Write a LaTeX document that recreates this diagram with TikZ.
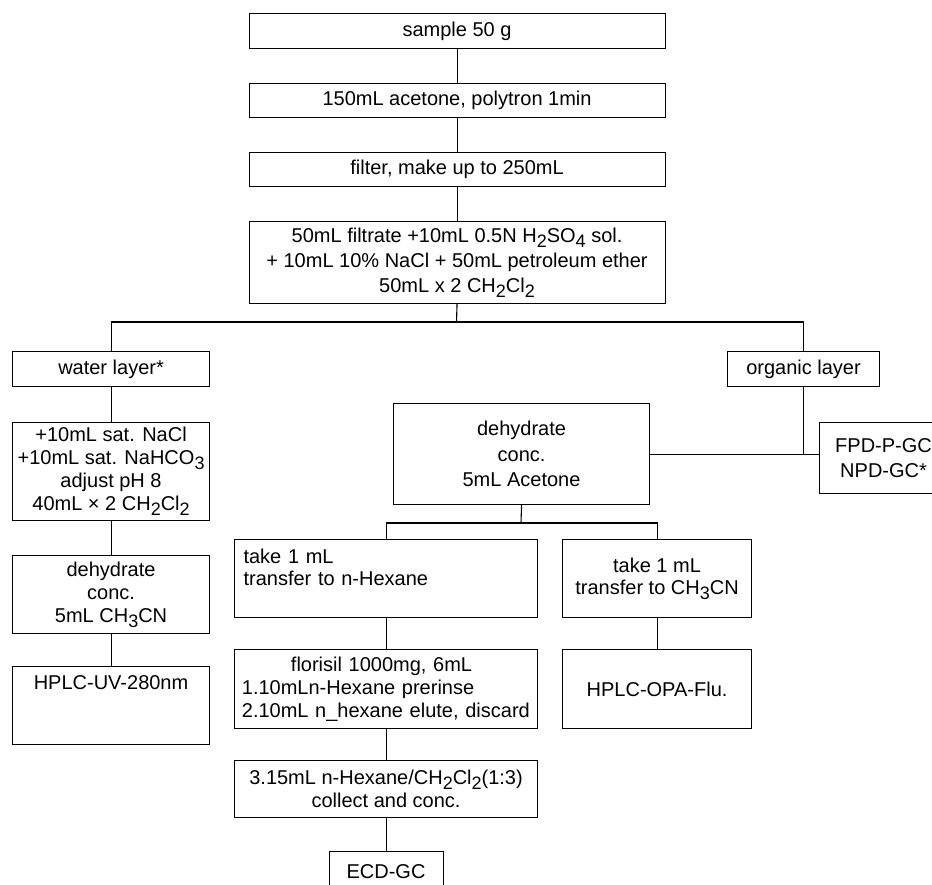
\documentclass[tikz,border=0pt]{standalone}
\usepackage{fontspec}
\setmainfont{Liberation Sans}
\newcommand{\chemsub}[1]{\raisebox{-5pt}{\fontsize{18}{18}\selectfont #1}}
\tikzset{
  box/.style={draw, line width=1.1pt, anchor=north west, inner sep=2pt, align=center, font=\fontsize{20}{23}\selectfont},
  link/.style={line width=1.1pt},
}

\begin{document}
\begin{tikzpicture}[x=1pt, y=-1pt]%
\useasboundingbox (0,0) rectangle (932,885);%
\clip (0,0) rectangle (932,885);%
% main column
\node[box, minimum width=416, minimum height=35] (sample) at (248.5,13) {sample 50 g};%
\node[box, minimum width=416, minimum height=34] (acetone) at (248.5,83) {150mL acetone, polytron 1min};%
\node[box, minimum width=416, minimum height=34] (filter) at (248.5,152) {filter, make up to 250mL};%
\node[box, minimum width=416, minimum height=82, font=\fontsize{20}{25}\selectfont] (filtrate) at (248.5,221) {50mL filtrate +10mL 0.5N H\chemsub{2}SO\chemsub{4} sol.\\ + 10mL 10\% NaCl + 50mL petroleum ether\\ 50mL x 2 CH\chemsub{2}Cl\chemsub{2}};%
\coordinate (bus) at (456.5,322);%
% water layer
\node[box, minimum width=197, minimum height=35] (water) at (12,351) {water layer*};%
\node[box, minimum width=197, minimum height=98] (nacl) at (12,422) {+10mL sat. NaCl\\ +10mL sat. NaHCO\chemsub{3}\\ adjust pH 8\\ 40mL × 2 CH\chemsub{2}Cl\chemsub{2}};%
\node[box, minimum width=197, minimum height=78] (dehyW) at (12,555) {dehydrate\\ conc.\\ 5mL CH\chemsub{3}CN};%
\node[box, minimum width=197, minimum height=78] (hplcuv) at (12,666) {HPLC-UV-280nm\\ ~\\ ~};%
% organic layer
\node[box, minimum width=152, minimum height=35] (organic) at (727,351) {organic layer};%
\node[box, minimum width=256, minimum height=101, font=\fontsize{20}{25.5}\selectfont] (dehyA) at (393,403) {dehydrate\\ conc.\\ 5mL Acetone};%
\node[box, minimum width=128, minimum height=71, font=\fontsize{20}{25}\selectfont] (fpd) at (819,422) {FPD-P-GC\\ NPD-GC*};%
\coordinate (split) at (521,523);%
\node[box, text width=285, inner xsep=9pt, minimum height=78, align=left, font=\fontsize{20}{22}\selectfont] (hexane) at (234,539) {take 1 mL\\ transfer to n-Hexane\\ ~};%
\node[box, minimum width=189, minimum height=78, font=\fontsize{20}{22}\selectfont] (ch3cn) at (562,539) {take 1 mL\\ transfer to CH\chemsub{3}CN};%
\node[box, text width=295, inner xsep=4pt, minimum height=79, align=left] (florisil) at (234,649) {\makebox[286pt]{florisil 1000mg, 6mL}\\ \mbox{\,1.10mLn-Hexane prerinse}\\ \mbox{\,2.10mL n\_hexane elute, discard}};%
\node[box, minimum width=189, minimum height=79] (opa) at (562,649) {HPLC-OPA-Flu.};%
\node[box, minimum width=303, minimum height=57] (collect) at (234,760) {3.15mL n-Hexane/CH\chemsub{2}Cl\chemsub{2}(1:3)\\ collect and conc.};%
\node[box, minimum width=114, minimum height=40] (ecd) at (328.5,851) {ECD-GC};%
% connectors
\draw[link] (sample.south) -- (acetone.north);%
\draw[link] (acetone.south) -- (filter.north);%
\draw[link] (filter.south) -- (filtrate.north);%
\draw[link] (filtrate.south) -- (bus);%
\draw[link] (water.north) |- (bus) -| (organic.north);%
\draw[link] (water.south) -- (nacl.north);%
\draw[link] (nacl.south) -- (dehyW.north);%
\draw[link] (dehyW.south) -- (hplcuv.north);%
\draw[link] (organic.south) -- (organic.south |- dehyA.east);%
\draw[link] (dehyA.east) -- (dehyA.east -| fpd.west);%
\draw[link] (dehyA.south) -- (split);%
\draw[link] (hexane.north) |- (split) -| (ch3cn.north);%
\draw[link] (hexane.south) -- (florisil.north);%
\draw[link] (florisil.south) -- (collect.north);%
\draw[link] (collect.south) -- (ecd.north);%
\draw[link] (ch3cn.south) -- (opa.north);%
\end{tikzpicture}
\end{document}
